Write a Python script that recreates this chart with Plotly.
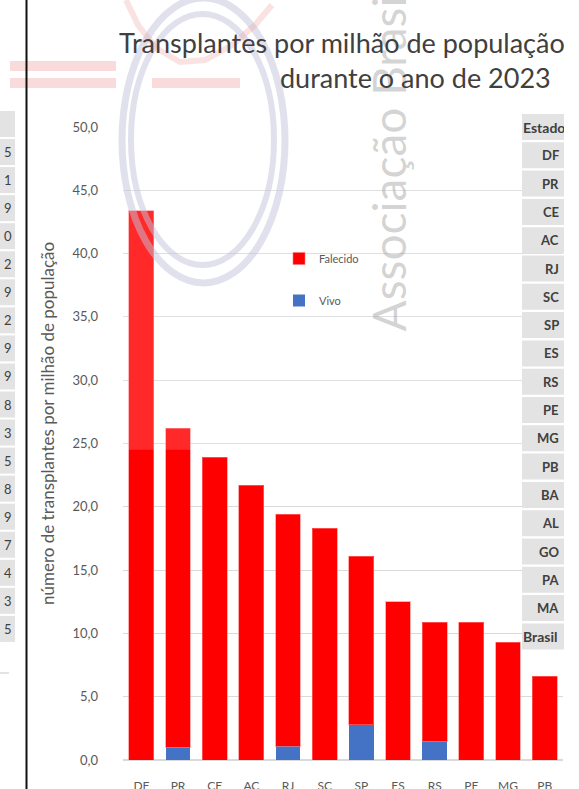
import plotly.graph_objects as go

# Transplant rates per million population, 2023, by state
estados = ["DF", "PR", "CE", "AC", "RJ", "SC", "SP", "ES", "RS", "PE", "MG", "PB"]
falecido = [43.4, 25.2, 23.9, 21.7, 18.3, 18.3, 13.3, 12.5, 9.4, 10.9, 9.3, 6.6]
vivo = [0.0, 1.0, 0.0, 0.0, 1.1, 0.0, 2.8, 0.0, 1.5, 0.0, 0.0, 0.0]

# Side table (state ranking) and neighbouring column digits
tabela_estados = ["DF", "PR", "CE", "AC", "RJ", "SC", "SP", "ES", "RS", "PE",
                  "MG", "PB", "BA", "AL", "GO", "PA", "MA", "Brasil"]
tabela_digitos = ["5", "1", "9", "0", "2", "9", "2", "9", "9", "8",
                  "3", "5", "8", "9", "7", "4", "3", "5"]

W, H = 579, 789
L, R, T, B = 123, 563, 127, 760
Y_MAX = 50


def px(x):
    return (x - L) / (R - L)


def py(y):
    return (B - y) / (B - T)


FONT = "Lato"
RED = "#FF0000"
BLUE = "#4472C4"
GREY_TXT = "#595959"
DARK_TXT = "#404040"

fig = go.Figure()
fig.add_trace(go.Bar(
    x=estados, y=vivo, name="Vivo", marker=dict(color=BLUE, line=dict(width=0)),
    legendgroup="v", legendrank=2,
))
fig.add_trace(go.Bar(
    x=estados, y=falecido, name="Falecido",
    marker=dict(color=RED, line=dict(color="rgba(255,120,120,0.6)", width=1)),
    legendgroup="f", legendrank=1,
))

shapes = []
annotations = []

# faint wash over the upper part of the plot
shapes.append(dict(type="rect", xref="x", yref="y", x0=-0.5, x1=11.5, y0=24.5, y1=Y_MAX,
                   fillcolor="rgba(255,255,255,0.16)", line=dict(width=0), layer="above"))

# watermark: double ring
ring = "rgba(195,195,220,0.5)"
shapes.append(dict(type="circle", xref="paper", yref="paper",
                   x0=px(122), x1=px(285), y0=py(283), y1=py(-2),
                   line=dict(color=ring, width=7), layer="above"))
shapes.append(dict(type="circle", xref="paper", yref="paper",
                   x0=px(131), x1=px(274), y0=py(265), y1=py(14),
                   line=dict(color=ring, width=6), layer="above"))

# watermark: pink bands and arc
pink = "rgba(240,160,160,0.38)"
for (x0, x1, y0, y1) in [(10, 116, 61, 71), (10, 116, 78, 88), (152, 240, 78, 88)]:
    shapes.append(dict(type="rect", xref="paper", yref="paper",
                       x0=px(x0), x1=px(x1), y0=py(y1), y1=py(y0),
                       fillcolor=pink, line=dict(width=0), layer="above"))
arc_pts = [(126, 0), (138, 25), (156, 48), (180, 62), (205, 60), (232, 45), (255, 25), (272, 5)]
arc_path = "M " + " L ".join(f"{px(a):.4f},{py(b):.4f}" for a, b in arc_pts)
shapes.append(dict(type="path", xref="paper", yref="paper", path=arc_path,
                   line=dict(color="rgba(240,160,160,0.3)", width=6), layer="above"))

# vertical separator at left
shapes.append(dict(type="line", xref="paper", yref="paper",
                   x0=px(26.5), x1=px(26.5), y0=py(0), y1=py(H),
                   line=dict(color="#111111", width=2)))

ROW0, ROW_H = 127, 28.3

# right-hand table
cell_fill = "#E3E3E3"
for i in range(len(tabela_estados) + 1):
    yc = ROW0 + ROW_H * i
    shapes.append(dict(type="rect", xref="paper", yref="paper",
                       x0=px(522), x1=px(564), y0=py(yc + 13), y1=py(yc - 13),
                       fillcolor=cell_fill, line=dict(width=0)))
annotations.append(dict(text="<b>Estado</b>", x=px(521), y=py(ROW0), xref="paper", yref="paper",
                        xanchor="left", yanchor="middle", showarrow=False,
                        font=dict(family=FONT, size=14, color=DARK_TXT)))
for i, s in enumerate(tabela_estados):
    yc = ROW0 + ROW_H * (i + 1)
    if s == "Brasil":
        annotations.append(dict(text="<b>Brasil</b>", x=px(521), y=py(yc), xref="paper", yref="paper",
                                xanchor="left", yanchor="middle", showarrow=False,
                                font=dict(family=FONT, size=14, color=DARK_TXT)))
    else:
        annotations.append(dict(text=f"<b>{s}</b>", x=px(561), y=py(yc), xref="paper", yref="paper",
                                xanchor="right", yanchor="middle", showarrow=False,
                                font=dict(family=FONT, size=13, color=DARK_TXT)))
# table column is cut at its right edge
annotations.append(dict(text=" ", x=px(564), y=py(110), xref="paper", yref="paper",
                        xanchor="left", yanchor="top", showarrow=False, width=16, height=545,
                        bgcolor="white", borderpad=0, borderwidth=0))

# left-hand table column
LROW0, LROW_H = 124, 28.05
for i in range(len(tabela_digitos) + 1):
    yc = LROW0 + LROW_H * i
    shapes.append(dict(type="rect", xref="paper", yref="paper",
                       x0=px(-2), x1=px(15), y0=py(yc + 13), y1=py(yc - 13),
                       fillcolor=cell_fill, line=dict(width=0)))
for i, d in enumerate(tabela_digitos):
    yc = LROW0 + LROW_H * (i + 1)
    annotations.append(dict(text=d, x=px(14), y=py(yc), xref="paper", yref="paper",
                            xanchor="right", yanchor="middle", showarrow=False,
                            font=dict(family=FONT, size=13, color=DARK_TXT)))
shapes.append(dict(type="line", xref="paper", yref="paper",
                   x0=px(0), x1=px(9), y0=py(673), y1=py(673),
                   line=dict(color="#C8C8C8", width=1)))

# watermark text
annotations.append(dict(text="Associação Brasileira", x=px(388), y=py(334), xref="paper", yref="paper",
                        xanchor="center", yanchor="bottom", textangle=-90, showarrow=False,
                        font=dict(family=FONT, size=46, color="rgba(150,150,150,0.42)")))

# title
annotations.append(dict(text="Transplantes por milhão de população", x=px(117), y=py(43),
                        xref="paper", yref="paper", xanchor="left", yanchor="middle",
                        showarrow=False, font=dict(family=FONT, size=27, color=DARK_TXT)))
annotations.append(dict(text="durante o ano de 2023", x=px(553), y=py(77),
                        xref="paper", yref="paper", xanchor="right", yanchor="middle",
                        showarrow=False, font=dict(family=FONT, size=27, color=DARK_TXT)))

# y-axis title
annotations.append(dict(text="número de transplantes por milhão de população", x=px(47), y=py(424),
                        xref="paper", yref="paper", xanchor="center", yanchor="middle",
                        textangle=-90, showarrow=False,
                        font=dict(family=FONT, size=17, color=GREY_TXT)))

fig.update_layout(
    width=W, height=H,
    margin=dict(l=L, r=W - R, t=T, b=H - B, autoexpand=False),
    barmode="stack", bargap=0.32,
    plot_bgcolor="white", paper_bgcolor="white",
    separators=",.",
    showlegend=True,
    legend=dict(x=px(279), y=py(244), xanchor="left", yanchor="top",
                traceorder="grouped", tracegroupgap=23,
                font=dict(family=FONT, size=11, color=GREY_TXT),
                bgcolor="rgba(0,0,0,0)", itemwidth=30),
    xaxis=dict(showgrid=False, showline=False, ticks="", ticklabelstandoff=17, automargin=False,
               tickfont=dict(family=FONT, size=12, color=GREY_TXT), fixedrange=True),
    yaxis=dict(range=[0, Y_MAX], dtick=5, tickformat=".1f", showgrid=True, automargin=False,
               gridcolor="#D9D9D9", gridwidth=1, zeroline=True, zerolinecolor="#D9D9D9",
               showline=False, ticks="", ticklabelstandoff=24,
               tickfont=dict(family=FONT, size=13, color=GREY_TXT)),
    shapes=shapes, annotations=annotations,
)

fig.write_html("out.html")
